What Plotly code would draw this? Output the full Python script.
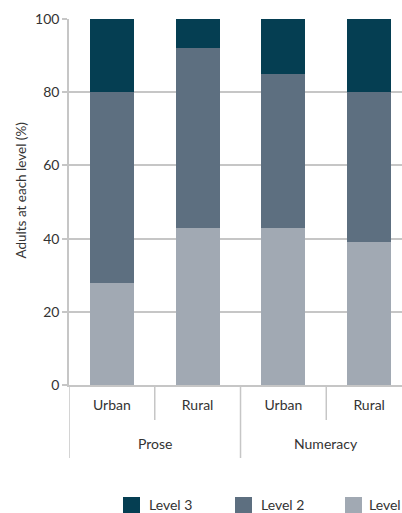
import plotly.graph_objects as go

domains = ["Prose", "Numeracy"]
categories = ["Prose Urban", "Prose Rural", "Numeracy Urban", "Numeracy Rural"]
areas = ["Urban", "Rural", "Urban", "Rural"]
level1 = [28, 43, 43, 39]
level2 = [52, 49, 42, 41]
level3 = [20, 8, 15, 20]
legend_names = ["Level 3", "Level 2", "Level 1"]
colors = ["#053e52", "#5d6f80", "#a1a9b3"]
y_title = "Adults at each level (%)"

W, H = 402, 513
L, R, T, B = 69, 0, 19, 513 - 385
PW, PH = W - L - R, H - T - B
GRID = "#c6c6c6"

def px_x(p):
    return (p - L) / PW

def px_y(p):
    return (H - B - p) / PH

fig = go.Figure()
for vals, name, col in zip([level1, level2, level3], legend_names[::-1], colors[::-1]):
    fig.add_trace(go.Bar(x=categories, y=vals, name=name, marker_color=col,
                         marker_line_width=0, width=0.515, showlegend=False))

font = "Lato, Roboto, sans-serif"
shapes = []
annotations = []
# group dividers (long) and sub-dividers (short)
for xv, yb in [(-0.5, 458), (0.5, 420), (1.5, 458), (2.5, 420)]:
    shapes.append(dict(type="line", xref="x", yref="paper", x0=xv, x1=xv, y0=0, y1=px_y(yb),
                       line=dict(color=GRID, width=1.5)))
# outer group labels
for i, d in enumerate(domains):
    annotations.append(dict(text=d, xref="x", yref="paper", x=2 * i + 0.5, y=px_y(443),
                            showarrow=False, xanchor="center", yanchor="middle",
                            font=dict(size=14, color="#333333")))
# y-axis title
annotations.append(dict(text=y_title, xref="paper", yref="paper", x=px_x(20.5), y=px_y(191),
                        textangle=-90, showarrow=False, xanchor="center", yanchor="middle",
                        font=dict(size=13.5, color="#333333")))
# legend
leg_sq = [123, 235, 345]
leg_tx = [147, 259, 367]
for name, col, sx, tx in zip(legend_names, colors, leg_sq, leg_tx):
    shapes.append(dict(type="rect", xref="paper", yref="paper", x0=px_x(sx), x1=px_x(sx + 17),
                       y0=px_y(514), y1=px_y(497), fillcolor=col, line=dict(width=0)))
    annotations.append(dict(text=name, xref="paper", yref="paper", x=px_x(tx), y=px_y(505),
                            showarrow=False, xanchor="left", yanchor="middle",
                            font=dict(size=14, color="#333333")))

fig.update_layout(
    barmode="stack", width=W, height=H,
    margin=dict(l=L, r=R, t=T, b=B, autoexpand=False),
    plot_bgcolor="white", paper_bgcolor="white",
    font=dict(family=font, size=14, color="#333333"),
    showlegend=False, shapes=shapes, annotations=annotations,
)
fig.update_yaxes(range=[0, 100], dtick=20, showgrid=True, gridcolor=GRID, gridwidth=1.5,
                 ticks="outside", ticklen=5, tickcolor=GRID, tickwidth=1.5, zeroline=False,
                 showline=True, linecolor=GRID, linewidth=1.5, automargin=False,
                 tickfont=dict(size=14))
fig.update_xaxes(type="category", range=[-0.5, 3.383], showline=True, linecolor=GRID,
                 linewidth=1.5, ticks="", tickvals=categories, ticktext=areas,
                 tickfont=dict(size=14), automargin=False, ticklabelstandoff=6)
fig.write_html("out.html", config={"displayModeBar": False},
               post_script="document.body.style.margin='0';document.body.style.overflow='hidden';")
